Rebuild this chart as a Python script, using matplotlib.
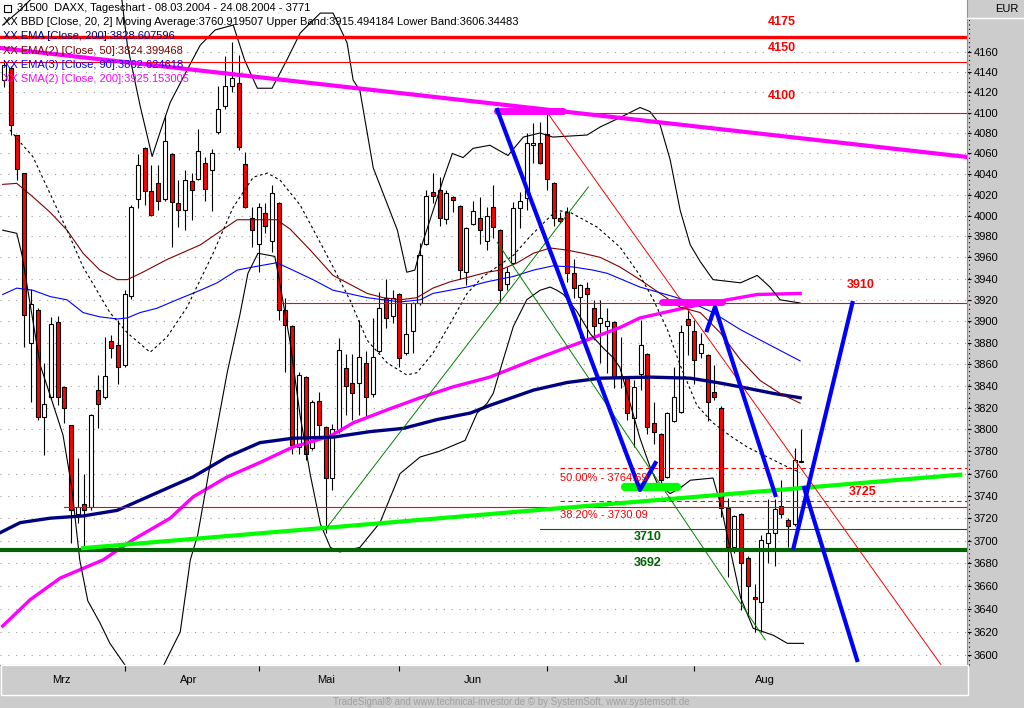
import matplotlib
matplotlib.use("Agg")
import matplotlib.pyplot as plt
from matplotlib import font_manager
from matplotlib.lines import Line2D
from matplotlib.patches import Rectangle
from matplotlib.ticker import FixedLocator, FixedFormatter, NullLocator

# --- candles (trading day index 0 = 08.03.2004 ... 119 = 24.08.2004) ---
opens = [4132, 4144, 4078, 4041, 3880, 3910, 3811, 3830, 3899, 3839,
         3804, 3724, 3733, 3730, 3836, 3830, 3881, 3878, 3859, 3924,
         4016, 4065, 4024, 4031, 4016, 4059, 4012, 4005, 4033, 4035,
         4051, 4044, 4081, 4106, 4126, 4129, 4050, 3998, 3973, 4002,
         3976, 4012, 3910, 3895, 3784, 3848, 3783, 3826, 3802, 3756,
         3799, 3856, 3843, 3843, 3861, 3832, 3872, 3922, 3905, 3925,
         3870, 3891, 3917, 3973, 4023, 4025, 3997, 4018, 4009, 3946,
         3992, 3998, 3976, 4008, 3986, 3935, 3955, 4007, 4017, 4068,
         4070, 4079, 4031, 3998, 4003, 3945, 3923, 3931, 3912, 3898,
         3895, 3899, 3849, 3847, 3810, 3851, 3869, 3806, 3796, 3757,
         3808, 3816, 3902, 3891, 3870, 3868, 3834, 3820, 3729, 3694,
         3724, 3685, 3650, 3646, 3698, 3707, 3731, 3718, 3715, 3770]
highs = [4152, 4146, 4078, 4041, 3930, 3912, 3861, 3904, 3905, 3840,
         3804, 3774, 3760, 3814, 3850, 3885, 3887, 3901, 3929, 4010,
         4059, 4066, 4049, 4049, 4098, 4060, 4034, 4044, 4041, 4084,
         4057, 4064, 4126, 4156, 4170, 4157, 4061, 4008, 4012, 4012,
         4029, 4013, 3922, 3896, 3853, 3849, 3827, 3834, 3803, 3805,
         3884, 3869, 3869, 3901, 3872, 3903, 3927, 3940, 3929, 3926,
         3917, 3918, 3974, 4025, 4041, 4037, 4025, 4019, 4010, 3989,
         4014, 4018, 4008, 4029, 3987, 3951, 4013, 4023, 4080, 4090,
         4091, 4100, 4032, 4003, 4008, 3959, 3935, 3937, 3920, 3920,
         3912, 3900, 3885, 3848, 3845, 3901, 3870, 3825, 3797, 3816,
         3857, 3896, 3911, 3901, 3889, 3869, 3859, 3821, 3738, 3723,
         3725, 3686, 3662, 3705, 3737, 3737, 3754, 3720, 3783, 3800]
lows = [4125, 4078, 4034, 3876, 3825, 3809, 3777, 3828, 3822, 3806,
        3698, 3716, 3692, 3727, 3801, 3828, 3866, 3842, 3857, 3921,
        4007, 4010, 4000, 4005, 4014, 3970, 3989, 3986, 3996, 4034,
        4014, 4004, 4079, 4104, 4120, 4063, 4007, 3970, 3946, 3983,
        3965, 3901, 3853, 3778, 3778, 3772, 3781, 3793, 3707, 3745,
        3797, 3813, 3809, 3813, 3810, 3830, 3870, 3894, 3898, 3857,
        3868, 3870, 3915, 3972, 4012, 3990, 3992, 4003, 3940, 3934,
        3991, 3973, 3967, 3979, 3918, 3929, 3954, 3988, 4005, 4051,
        4050, 4025, 3990, 3993, 3937, 3922, 3884, 3882, 3882, 3861,
        3852, 3838, 3838, 3809, 3784, 3836, 3796, 3787, 3751, 3756,
        3807, 3815, 3868, 3842, 3866, 3808, 3827, 3721, 3668, 3689,
        3639, 3633, 3620, 3620, 3680, 3678, 3720, 3694, 3713, 3770]
closes = [4147, 4088, 4045, 3906, 3916, 3811, 3823, 3897, 3830, 3820,
          3727, 3730, 3727, 3813, 3823, 3849, 3875, 3857, 3925, 4008,
          4049, 4024, 4001, 4014, 4072, 4013, 4005, 4034, 4025, 4062,
          4026, 4060, 4104, 4126, 4134, 4066, 4008, 3986, 4008, 3990,
          4022, 3910, 3896, 3786, 3850, 3778, 3825, 3804, 3756, 3800,
          3873, 3840, 3833, 3867, 3830, 3867, 3912, 3903, 3922, 3866,
          3888, 3917, 3962, 4019, 4019, 3998, 4022, 4015, 3948, 3988,
          4004, 3986, 4000, 3989, 3929, 3946, 4007, 4014, 4070, 4070,
          4051, 4035, 3998, 3995, 3945, 3931, 3934, 3925, 3895, 3903,
          3900, 3848, 3847, 3815, 3839, 3878, 3802, 3798, 3754, 3815,
          3830, 3890, 3896, 3864, 3879, 3825, 3830, 3729, 3694, 3722,
          3680, 3660, 3649, 3701, 3707, 3728, 3724, 3713, 3772, 3771]

# --- indicators (day index, value) ---
bb_upper_idx = [-0.2, 2.4, 4.6, 8.4, 12.8, 16.6, 17.6, 18.4, 20.3, 22.1, 23.3, 24.8,
                28.1, 29.3, 31.5, 34.2, 35.9, 37.8, 40.0, 42.2, 44.2, 47.2, 49.1,
                51.2, 52.1, 53.1, 55.1, 58.7, 60.1, 61.3, 62.1, 65.5, 66.9, 68.5,
                70.0, 72.5, 75.2, 77.5, 80.0, 81.9, 87.0, 89.0, 91.9, 94.9, 96.4,
                97.9, 99.4, 100.9, 102.4, 103.9, 105.8, 109.9, 112.4, 114.3,
                115.8, 118.8]
bb_upper = [4187, 4202, 4217, 4232, 4232, 4217, 4212, 4167, 4107, 4057, 4081, 4110,
            4152, 4167, 4182, 4187, 4152, 4124, 4124, 4152, 4179, 4199, 4199,
            4169, 4132, 4122, 4046, 3986, 3946, 3948, 3967, 4034, 4060, 4056,
            4065, 4068, 4058, 4076, 4080, 4076, 4078, 4086, 4095, 4105, 4101,
            4088, 4054, 4005, 3972, 3956, 3939, 3936, 3943, 3932, 3920, 3917]
bb_mid_idx = [0.9, 2.4, 4.3, 9.4, 11.8, 15.8, 18.4, 21.8, 24.3, 27.3, 31.2, 34.2,
              37.2, 39.3, 41.2, 44.2, 46.7, 49.1, 51.6, 54.2, 57.2, 60.1, 61.6,
              64.0, 66.6, 69.1, 71.5, 74.0, 76.0, 78.5, 81.0, 82.5, 84.5, 88.5,
              91.9, 94.9, 96.9, 99.0, 100.9, 103.4, 105.8, 108.4, 110.9, 113.9,
              116.9, 118.8]
bb_mid = [4083, 4071, 4057, 3986, 3951, 3908, 3889, 3871, 3885, 3913, 3964, 4008,
          4037, 4041, 4034, 4010, 3980, 3951, 3920, 3882, 3861, 3850, 3852,
          3870, 3898, 3926, 3942, 3953, 3962, 3980, 3996, 4005, 4003, 3989,
          3970, 3943, 3920, 3892, 3859, 3822, 3806, 3794, 3784, 3775, 3766, 3761]
bb_lower_idx = [-0.2, 1.9, 2.7, 5.4, 6.9, 8.8, 10.1, 11.3, 12.5, 14.3, 15.8, 18.8,
                23.3, 26.3, 27.8, 28.9, 30.7, 33.3, 35.2, 36.4, 37.9, 40.4, 40.9,
                42.7, 44.2, 45.7, 47.2, 48.7, 50.1, 53.1, 56.1, 59.1, 62.1, 64.9,
                68.8, 70.6, 72.1, 73.0, 74.0, 76.0, 78.0, 80.0, 81.5, 82.5, 83.5,
                85.5, 87.5, 89.4, 90.9, 91.9, 94.9, 96.4, 97.5, 99.4, 100.9, 102.4,
                105.8, 106.9, 109.9, 111.8, 114.8, 116.9, 119.3]
bb_lower = [3986, 3983, 3962, 3859, 3831, 3795, 3748, 3683, 3647, 3628, 3610, 3585,
            3585, 3620, 3683, 3705, 3766, 3852, 3906, 3945, 3964, 3961, 3945,
            3880, 3812, 3759, 3715, 3694, 3690, 3694, 3716, 3760, 3775, 3780,
            3790, 3815, 3824, 3833, 3854, 3895, 3920, 3929, 3932, 3929, 3925,
            3909, 3888, 3875, 3866, 3857, 3792, 3766, 3751, 3742, 3747, 3754,
            3756, 3733, 3650, 3623, 3617, 3610, 3610]
ema50_idx = [-0.2, 1.9, 4.3, 6.9, 9.4, 11.8, 14.3, 16.9, 18.4, 20.7, 24.3, 29.3,
             31.8, 34.8, 40.7, 42.7, 45.7, 49.1, 54.2, 56.6, 59.1, 61.6, 64.0,
             66.6, 69.1, 72.1, 74.0, 76.6, 79.0, 81.5, 84.0, 86.4, 89.0, 91.9,
             94.9, 100.9, 103.9, 106.9, 109.9, 112.8, 115.8, 118.8]
ema50 = [4030, 4031, 4018, 4003, 3986, 3964, 3948, 3939, 3939, 3946, 3958, 3972,
         3983, 3996, 3996, 3987, 3967, 3943, 3926, 3922, 3920, 3922, 3931,
         3937, 3941, 3946, 3948, 3955, 3964, 3969, 3967, 3964, 3960, 3951,
         3939, 3913, 3908, 3889, 3864, 3845, 3833, 3824]
ema90_idx = [-0.2, 1.9, 4.3, 6.9, 9.4, 11.8, 14.3, 16.9, 18.4, 20.3, 22.8, 25.8,
             29.3, 31.8, 34.8, 37.2, 40.7, 43.1, 46.1, 49.1, 54.2, 59.1, 62.1,
             64.0, 69.1, 72.1, 76.0, 79.0, 81.9, 84.9, 87.9, 90.0, 94.9, 99.9,
             102.4, 105.8, 109.9, 114.8, 118.8]
ema90 = [3925, 3931, 3929, 3923, 3920, 3908, 3904, 3902, 3903, 3908, 3912, 3920,
         3929, 3936, 3948, 3951, 3955, 3948, 3939, 3929, 3922, 3918, 3920,
         3926, 3932, 3937, 3942, 3948, 3952, 3951, 3948, 3945, 3932, 3923,
         3918, 3908, 3892, 3876, 3863]
ema200_idx = [-0.6, 2.4, 6.9, 11.8, 16.9, 20.3, 24.8, 28.2, 33.3, 38.2, 43.1, 49.1,
              54.6, 59.6, 64.6, 69.6, 72.5, 79.0, 84.0, 89.0, 96.4, 102.4, 106.4,
              109.9, 114.8, 118.8]
ema200 = [3707, 3716, 3720, 3722, 3727, 3736, 3748, 3757, 3775, 3788, 3792, 3793,
          3798, 3801, 3809, 3815, 3822, 3836, 3843, 3847, 3848, 3847, 3843,
          3839, 3833, 3829]
sma200_idx = [-0.2, 3.9, 8.4, 14.8, 19.3, 24.8, 28.2, 33.3, 38.2, 43.1, 48.7, 52.1,
              57.2, 62.1, 67.0, 72.5, 79.0, 86.4, 91.9, 94.9, 99.9, 103.4, 107.9,
              112.4, 118.8]
sma200 = [3625, 3648, 3667, 3683, 3701, 3720, 3739, 3757, 3770, 3784, 3794, 3806,
          3818, 3829, 3839, 3848, 3864, 3881, 3894, 3903, 3910, 3915, 3920,
          3925, 3926]

# --- axis labels ---
price_ticks = list(range(3600, 4161, 20))
month_names = ["Mrz", "Apr", "Mai", "Jun", "Jul", "Aug"]
month_starts = [18, 38, 59, 81, 103]
month_centres = [8.5, 27.5, 48, 70, 92, 113.5]

header_lines = [
    ("31500  DAXX, Tageschart - 08.03.2004 - 24.08.2004 - 3771", "black"),
    ("XX BBD [Close, 20, 2] Moving Average:3760.919507 Upper Band:3915.494184 "
     "Lower Band:3606.34483", "black"),
    ("XX EMA [Close, 200]:3828.607596", "#000080"),
    ("XX EMA(2) [Close, 50]:3824.399468", "#800000"),
    ("XX EMA(3) [Close, 90]:3862.624618", "#0000ff"),
    ("XX SMA(2) [Close, 200]:3925.153005", "#ff00ff"),
]

W, H = 1024, 708


def pick_font(*names):
    installed = {f.name for f in font_manager.fontManager.ttflist}
    for name in names:
        if name in installed:
            return name
    return "DejaVu Sans"


font = pick_font("Liberation Sans", "Arial")
narrow = pick_font("Liberation Sans Narrow", "Liberation Sans")
plt.rcParams["font.family"] = font

fig = plt.figure(figsize=(W / 100, H / 100), dpi=100, facecolor="#cccccc")
ax = fig.add_axes([0, 1 - 665 / H, 967 / W, 665 / H], facecolor="white")
ax.set_yscale("log")
ax.set_ylim(3591.3, 4212.2)
ax.set_xlim(-0.6, 143.7)

# grid
for p in price_ticks:
    ax.axhline(p, color="#a0a0a0", lw=0.8, ls=(0, (1, 6)), zorder=0)

# candles
for i, (o, h, l, c) in enumerate(zip(opens, highs, lows, closes)):
    ax.vlines(i, l, h, color="black", lw=0.8, zorder=2)
    lo, hi = min(o, c), max(o, c)
    if hi - lo < 1:
        hi = lo + 1
    ax.bar(i, hi - lo, bottom=lo, width=0.6, color="#ff0000" if c < o else "white",
           edgecolor="black", lw=0.8, zorder=2.5)

# indicators
ax.plot(sma200_idx, sma200, color="#ff00ff", lw=2.4, zorder=3)
ax.plot(ema200_idx, ema200, color="#000080", lw=2.4, zorder=3)
ax.plot(ema50_idx, ema50, color="#800000", lw=0.8, zorder=3)
ax.plot(ema90_idx, ema90, color="#0000ff", lw=0.8, zorder=3)
ax.plot(bb_upper_idx, bb_upper, color="black", lw=0.8, zorder=3)
ax.plot(bb_lower_idx, bb_lower, color="black", lw=0.8, zorder=3)
ax.plot(bb_mid_idx, bb_mid, color="black", lw=0.8, ls=(0, (2.5, 2.5)), zorder=3)

# drawn horizontal levels
ax.axhline(4175, color="#ff0000", lw=2.4, zorder=4)
ax.axhline(4150, color="#ff0000", lw=0.8, zorder=4)
ax.plot([84.5, 143.7], [4100, 4100], color="#ff0000", lw=0.8, zorder=4)
ax.plot([40.7, 143.7], [3917, 3917], color="#ff0000", lw=0.8, zorder=4)
ax.plot([9, 143.7], [3730.09, 3730.09], color="#ff0000", lw=0.8, zorder=4)
ax.plot([83, 143.7], [3764.69, 3764.69], color="#ff0000", lw=0.8, ls=(0, (4, 3)), zorder=4)
ax.plot([83, 143.7], [3735.5, 3735.5], color="#ff0000", lw=0.8, ls=(0, (4, 3)), zorder=4)
ax.plot([80, 143.7], [3710, 3710], color="#006400", lw=0.8, zorder=4)
ax.axhline(3692, color="#006400", lw=3, zorder=4)

# trend lines
ax.plot([-0.6, 143.7], [4164, 4056.6], color="#ff00ff", lw=3, zorder=4)
ax.plot([11.8, 142.7], [3693.4, 3759], color="#00ff00", lw=3, zorder=4)
ax.plot([81.0, 140.5], [4100.6, 3586], color="#ff0000", lw=0.7, zorder=4)
ax.plot([47.9, 87.2], [3709.4, 4027.5], color="#008000", lw=0.7, zorder=4)
ax.plot([73.6, 113.6], [3974.3, 3613], color="#008000", lw=0.7, zorder=4)
ax.plot([92.7, 100.4], [3748, 3748], color="#00ff00", lw=6, solid_capstyle="round", zorder=4)
ax.plot([73.6, 83.4], [4101.6, 4101.6], color="#ff00ff", lw=5, solid_capstyle="round", zorder=5)
ax.plot([98.2, 107.2], [3917.9, 3917.9], color="#ff00ff", lw=5, solid_capstyle="round", zorder=5)
ax.plot([73.6, 94.9, 97.2], [4102.6, 3745.3, 3769.5], color="#0000ff", lw=3, zorder=5)
ax.plot([104.9, 106.1, 115.1], [3891.6, 3913.2, 3740.7], color="#0000ff", lw=3, zorder=5)
ax.plot([117.8, 126.6], [3693.4, 3917], color="#0000ff", lw=3, zorder=5)
ax.plot([119.4, 127.3], [3747.1, 3595.6], color="#0000ff", lw=3, zorder=5)

# level labels
bold = dict(fontsize=9, fontweight="bold", ha="center", va="center", zorder=6)
for txt, xi, p, col in [("4175", 116, 4190, "#ff0000"), ("4150", 116, 4164, "#ff0000"),
                        ("4100", 116, 4116, "#ff0000"), ("3910", 127.8, 3934, "#ff0000"),
                        ("3725", 128.1, 3743, "#ff0000"), ("3710", 96.1, 3703, "#006400"),
                        ("3692", 96.1, 3680, "#006400")]:
    ax.text(xi, p, txt, color=col, **bold)
ax.text(83, 3756, "50.00% - 3764.69", color="#ff0000", fontsize=8, va="center", zorder=6)
ax.text(83, 3723, "38.20% - 3730.09", color="#ff0000", fontsize=8, va="center", zorder=6)

# axes styling
ax.yaxis.tick_right()
ax.yaxis.set_major_locator(FixedLocator(price_ticks))
ax.yaxis.set_major_formatter(FixedFormatter([str(p) for p in price_ticks]))
ax.yaxis.set_minor_locator(NullLocator())
ax.tick_params(axis="y", which="major", length=3, pad=2, labelsize=8, direction="out")
ax.set_xticks(month_starts)
ax.set_xticklabels([])
ax.set_xticks(month_centres, minor=True)
ax.set_xticklabels(month_names, minor=True, fontsize=8, family=narrow)
ax.tick_params(axis="x", which="major", length=4, direction="out")
ax.tick_params(axis="x", which="minor", length=0, pad=7)
for side in ("top", "left"):
    ax.spines[side].set_visible(False)
ax.spines["right"].set_color("#909090")
ax.spines["bottom"].set_color("#909090")

fig.add_artist(Line2D([969 / W, 969 / W], [1 - 665 / H, 1 - 18 / H], color="black",
                      lw=0.8, ls=(0, (1, 3))))
fig.add_artist(Line2D([967 / W, 1], [1 - 18 / H, 1 - 18 / H], color="white", lw=1))
fig.add_artist(Rectangle((0.5 / W, 1 - 695 / H), 967 / W, 30 / H, fill=False,
                         edgecolor="white", lw=1))
fig.text(1018 / W, 1 - 9 / H, "EUR", ha="right", va="center", fontsize=8)

# header
for k, (txt, col) in enumerate(header_lines):
    x0 = 17 if k == 0 else 3
    fig.text(x0 / W, 1 - (8 + 14.2 * k) / H, txt, color=col, fontsize=8, va="center",
             zorder=7)
fig.add_artist(Rectangle((4 / W, 1 - 12 / H), 7 / W, 7 / H, fill=False, edgecolor="black",
                         lw=0.8))

fig.text(511 / W, 1 - 702 / H,
         "TradeSignal\u00ae and www.technical-investor.de \u00a9 by SystemSoft, www.systemsoft.de",
         ha="center", va="center", fontsize=7, color="#a0a0a0", family=narrow)

fig.savefig("out.png", dpi=100, facecolor=fig.get_facecolor())
